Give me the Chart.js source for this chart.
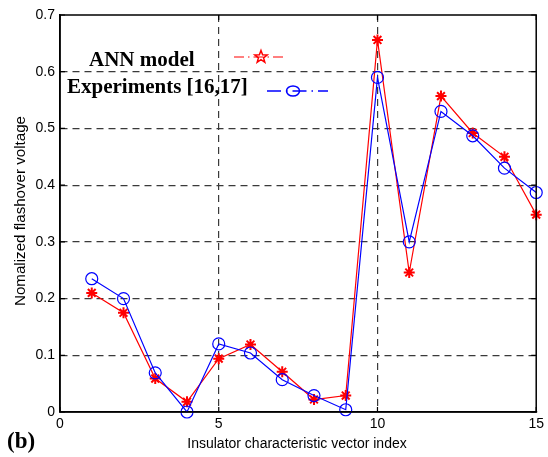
<!DOCTYPE html>
<html>
<head>
<meta charset="utf-8">
<script src="https://cdn.jsdelivr.net/npm/chart.js@4.4.0/dist/chart.umd.min.js"></script>
<style>
html,body{margin:0;padding:0;background:#fff;}
canvas{display:block;}
</style>
</head>
<body>
<canvas id="c" width="548" height="457"></canvas>
<script>
// ---- data ----
const vectorIndex = [1,2,3,4,5,6,7,8,9,10,11,12,13,14,15];
const annModel    = [0.210,0.175,0.059,0.018,0.094,0.119,0.071,0.022,0.029,0.656,0.246,0.557,0.492,0.450,0.348];
const experiments = [0.235,0.200,0.069,0.000,0.120,0.104,0.057,0.029,0.004,0.590,0.300,0.530,0.487,0.430,0.387];
const xTicks = [0,5,10,15];
const yTicks = [0,0.1,0.2,0.3,0.4,0.5,0.6,0.7];
const seriesNames = ['ANN model','Experiments [16,17]'];
const xTitle = 'Insulator characteristic vector index';
const yTitle = 'Nomalized flashover voltage';
const panelLabel = '(b)';

const sans = '"Liberation Sans", Arial, sans-serif';
const serif = '"Liberation Serif", "Times New Roman", serif';
const gridCol = '#3a3a3a';

function pts(vals){ return vals.map((v,i)=>({x:vectorIndex[i], y:v})); }

function star5(ctx, cx, cy, R){
  const r = R*0.42;
  ctx.beginPath();
  for(let i=0;i<10;i++){
    const a = -Math.PI/2 + i*Math.PI/5;
    const rr = i%2===0 ? R : r;
    const x = cx + rr*Math.cos(a), y = cy + rr*Math.sin(a);
    if(i===0) ctx.moveTo(x,y); else ctx.lineTo(x,y);
  }
  ctx.closePath();
  ctx.stroke();
}

const decor = {
  id:'decor',
  afterDraw(chart){
    const ctx = chart.ctx, a = chart.chartArea;
    const xs = chart.scales.x, ys = chart.scales.y;
    ctx.save();
    // box
    ctx.strokeStyle = '#000'; ctx.lineWidth = 1.5; ctx.setLineDash([]);
    ctx.strokeRect(a.left, a.top, a.right-a.left, a.bottom-a.top);
    // inward tick marks
    ctx.lineWidth = 1.2;
    xTicks.forEach(t=>{
      const x = xs.getPixelForValue(t);
      ctx.beginPath(); ctx.moveTo(x,a.bottom); ctx.lineTo(x,a.bottom-5);
      ctx.moveTo(x,a.top); ctx.lineTo(x,a.top+5); ctx.stroke();
    });
    yTicks.forEach(t=>{
      const y = ys.getPixelForValue(t);
      ctx.beginPath(); ctx.moveTo(a.left,y); ctx.lineTo(a.left+5,y);
      ctx.moveTo(a.right,y); ctx.lineTo(a.right-5,y); ctx.stroke();
    });
    // axis titles
    ctx.fillStyle = '#000';
    ctx.font = '14px ' + sans;
    ctx.textAlign = 'center'; ctx.textBaseline = 'middle';
    ctx.fillText(xTitle, 297, 444);
    ctx.save();
    ctx.translate(21, 211);
    ctx.rotate(-Math.PI/2);
    const w = ctx.measureText(yTitle).width;
    ctx.scale(190/w, 1);
    ctx.fillText(yTitle, 0, 0);
    ctx.restore();
    // panel label
    ctx.font = 'bold 23px ' + serif;
    ctx.textAlign = 'left'; ctx.textBaseline = 'alphabetic';
    ctx.fillText(panelLabel, 7, 448);
    // legend
    ctx.font = 'bold 21px ' + serif;
    ctx.textAlign = 'left';
    ctx.fillText(seriesNames[0], 89, 66);
    ctx.fillText(seriesNames[1], 67, 93);
    // red sample
    ctx.strokeStyle = '#ff0000'; ctx.lineWidth = 1.2;
    ctx.setLineDash([10,4,1.5,4]);
    ctx.beginPath(); ctx.moveTo(234,57); ctx.lineTo(284,57); ctx.stroke();
    ctx.setLineDash([]);
    ctx.lineWidth = 1.5;
    star5(ctx, 261, 57, 6.5);
    // blue sample
    ctx.strokeStyle = '#0000ff'; ctx.lineWidth = 1.5;
    ctx.setLineDash([14,5,1.5,5]);
    ctx.beginPath(); ctx.moveTo(267,91); ctx.lineTo(328,91); ctx.stroke();
    ctx.setLineDash([]);
    ctx.beginPath(); ctx.ellipse(293,91,6.5,5,0,0,Math.PI*2); ctx.stroke();
    ctx.restore();
  }
};

new Chart(document.getElementById('c'), {
  type:'line',
  data:{
    datasets:[
      {
        label: seriesNames[1],
        data: pts(experiments),
        borderColor:'#0000ff', backgroundColor:'rgba(0,0,0,0)',
        borderWidth:1.2, pointStyle:'circle', pointRadius:6,
        pointBorderColor:'#0000ff', pointBackgroundColor:'rgba(0,0,0,0)',
        pointBorderWidth:1.2, tension:0, clip:10
      },
      {
        label: seriesNames[0],
        data: pts(annModel),
        borderColor:'#ff0000', backgroundColor:'rgba(0,0,0,0)',
        borderWidth:1.2, pointStyle:'star', pointRadius:5.5,
        pointBorderColor:'#ff0000', pointBackgroundColor:'#ff0000',
        pointBorderWidth:2, tension:0, clip:10
      }
    ]
  },
  options:{
    responsive:false, animation:false, devicePixelRatio:1,
    layout:{padding:{top:15,right:10,left:0,bottom:0}},
    plugins:{legend:{display:false}, tooltip:{enabled:false}},
    scales:{
      x:{
        type:'linear', min:0, max:15,
        afterBuildTicks(s){ s.ticks = xTicks.map(v=>({value:v})); },
        afterFit(s){ s.height = 45; },
        ticks:{color:'#000', font:{family:sans,size:14}, padding:4, maxRotation:0},
        grid:{
          drawTicks:false, lineWidth:1.2,
          color:(c)=> (c.tick && (c.tick.value===0 || c.tick.value===15)) ? 'rgba(0,0,0,0)' : gridCol
        },
        border:{display:true, color:'#000', width:1.5, dash:[7,5]}
      },
      y:{
        type:'linear', min:0, max:0.7,
        afterBuildTicks(s){ s.ticks = yTicks.map(v=>({value:v})); },
        afterFit(s){ s.width = 60; },
        ticks:{color:'#000', font:{family:sans,size:14}, padding:5,
          callback:(v)=> v===0 ? '0' : (+v).toFixed(1)},
        grid:{
          drawTicks:false, lineWidth:1.2,
          color:(c)=> (c.tick && (Math.abs(c.tick.value)<1e-9 || Math.abs(c.tick.value-0.7)<1e-9)) ? 'rgba(0,0,0,0)' : gridCol
        },
        border:{display:true, color:'#000', width:1.5, dash:[7,5]}
      }
    }
  },
  plugins:[decor]
});
</script>
</body>
</html>
